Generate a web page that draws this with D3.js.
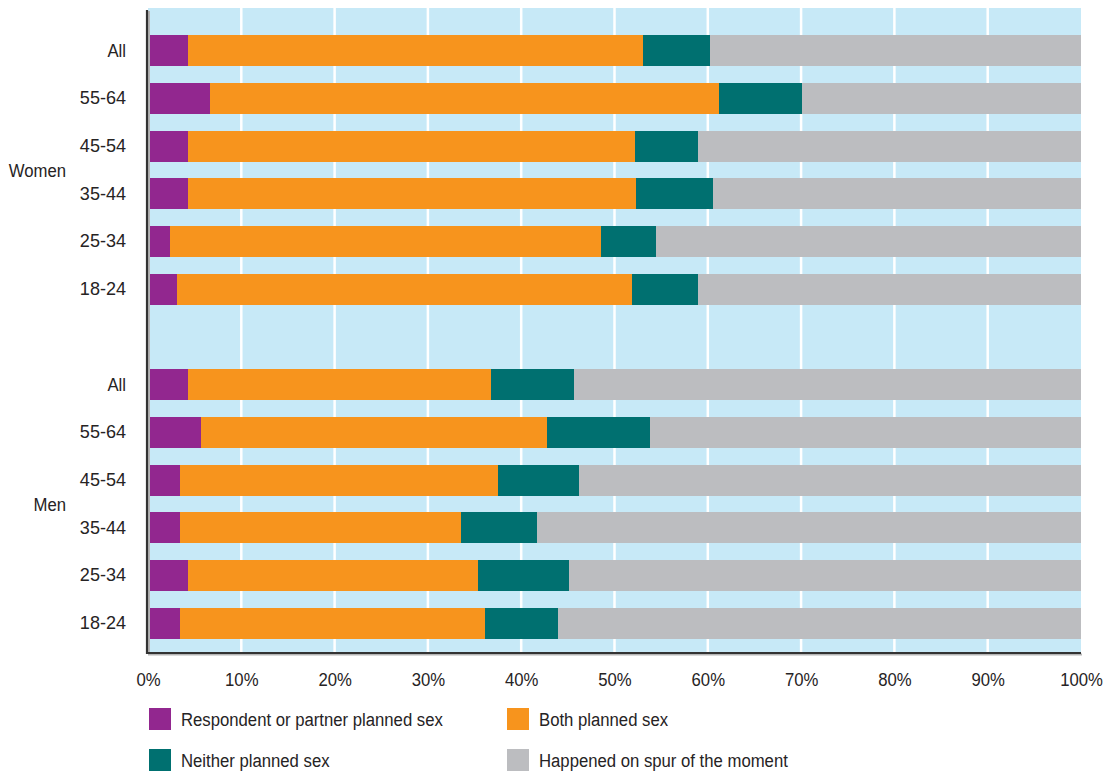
<!DOCTYPE html>
<html>
<head>
<meta charset="utf-8">
<script src="https://cdn.jsdelivr.net/npm/d3@7"></script>
<style>
  html, body { margin: 0; padding: 0; background: #ffffff; }
  svg { display: block; }
  text { font-family: "Liberation Sans", Arial, sans-serif; fill: #262324; }
</style>
</head>
<body>
<svg id="chart" width="1112" height="776"></svg>
<script>
// ---- Data ----
const groups = ["Women", "Men"];
const ageBands = ["All", "55-64", "45-54", "35-44", "25-34", "18-24"];
const seriesNames = [
  "Respondent or partner planned sex",
  "Both planned sex",
  "Neither planned sex",
  "Happened on spur of the moment"
];
// values in %, order: Women (All..18-24), then Men (All..18-24)
const respondentOrPartner = [4.3, 6.6, 4.3, 4.3, 2.4, 3.1,   4.3, 5.7, 3.4, 3.4, 4.3, 3.4];
const bothPlanned         = [48.8, 54.6, 47.9, 48.0, 46.2, 48.8,   32.5, 37.1, 34.1, 30.1, 31.1, 32.7];
const neitherPlanned      = [7.1, 8.9, 6.8, 8.3, 5.8, 7.0,   8.9, 11.0, 8.7, 8.2, 9.7, 7.8];
const spurOfMoment        = [39.8, 29.9, 41.0, 39.4, 45.6, 41.1,   54.3, 46.2, 53.8, 58.3, 54.9, 56.1];
const xTicks = [0, 10, 20, 30, 40, 50, 60, 70, 80, 90, 100];

const colors = ["#92278f", "#f7941d", "#007070", "#bcbdc0"];

// ---- Build table ----
const seriesValues = [respondentOrPartner, bothPlanned, neitherPlanned, spurOfMoment];
const rows = [];
groups.forEach((g, gi) => {
  ageBands.forEach((a, ai) => {
    const idx = gi * ageBands.length + ai;
    const r = { key: g + "|" + a, group: g, age: a };
    seriesNames.forEach((s, si) => { r[s] = seriesValues[si][idx]; });
    rows.push(r);
  });
});
const domainKeys = [];
rows.forEach((r, i) => {
  domainKeys.push(r.key);
  if (i === ageBands.length - 1) domainKeys.push("spacer");
});

// ---- Layout ----
const FONT_SIZE = "19px";
const SQUEEZE = 0.88;     // emulate the condensed typeface of the original
const SQUEEZE_NUM = 0.95; // digits are relatively wide in the original face
const svg = d3.select("#chart");
const plotLeft = 148, plotRight = 1081, plotTop = 8, plotBottom = 653;

const x = d3.scaleLinear().domain([0, 100]).range([plotLeft, plotRight]);
const y = d3.scaleBand().domain(domainKeys).range([27, 647]).paddingInner(0.35).paddingOuter(0.175);

// background
svg.append("rect")
  .attr("x", plotLeft).attr("y", plotTop)
  .attr("width", plotRight - plotLeft).attr("height", plotBottom - plotTop)
  .attr("fill", "#c7e9f7");

// gridlines
svg.append("g").selectAll("line")
  .data(xTicks.filter(d => d > 0 && d < 100))
  .join("line")
  .attr("x1", d => x(d)).attr("x2", d => x(d))
  .attr("y1", plotTop).attr("y2", plotBottom)
  .attr("stroke", "#ffffff").attr("stroke-width", 2.5);

// stacked bars
const stack = d3.stack().keys(seriesNames);
const stacked = stack(rows);
svg.append("g").selectAll("g")
  .data(stacked)
  .join("g")
  .attr("fill", (d, i) => colors[i])
  .selectAll("rect")
  .data(d => d.map(v => ({ v, key: v.data.key })))
  .join("rect")
  .attr("x", d => x(d.v[0]))
  .attr("width", d => x(d.v[1]) - x(d.v[0]))
  .attr("y", d => y(d.key))
  .attr("height", y.bandwidth())
  .attr("shape-rendering", "crispEdges");

// axis lines (with a subtle shadow)
svg.append("line").attr("x1", plotLeft + 1).attr("x2", plotLeft + 1).attr("y1", 11).attr("y2", plotBottom + 2)
  .attr("stroke", "#b5b5b5").attr("stroke-width", 2);
svg.append("line").attr("x1", plotLeft).attr("x2", plotRight + 1).attr("y1", plotBottom + 1.5).attr("y2", plotBottom + 1.5)
  .attr("stroke", "#b5b5b5").attr("stroke-width", 2);
svg.append("line").attr("x1", plotLeft - 1).attr("x2", plotLeft - 1).attr("y1", 10).attr("y2", plotBottom + 1)
  .attr("stroke", "#333333").attr("stroke-width", 2.2);
svg.append("line").attr("x1", plotLeft - 2).attr("x2", plotRight).attr("y1", plotBottom).attr("y2", plotBottom)
  .attr("stroke", "#333333").attr("stroke-width", 2.2);

// x axis labels
const xAxis = d3.axisBottom(x)
  .tickValues(xTicks)
  .tickFormat(d => d + "%")
  .tickSize(0)
  .tickPadding(20);
const gx = svg.append("g").attr("transform", `translate(0,${plotBottom})`).call(xAxis);
gx.select(".domain").remove();
gx.selectAll("text")
  .style("font-family", '"Liberation Sans", Arial, sans-serif')
  .style("font-size", FONT_SIZE).attr("fill", "#262324")
  .attr("transform", `scale(${SQUEEZE},1)`);

// y category labels
svg.append("g").selectAll("text")
  .data(rows)
  .join("text")
  .attr("transform", d => `translate(126,${y(d.key) + y.bandwidth() / 2 - 1}) scale(${d.age === "All" ? SQUEEZE : SQUEEZE_NUM},1)`)
  .attr("dy", "0.36em")
  .attr("text-anchor", "end")
  .style("font-size", FONT_SIZE)
  .text(d => d.age);

// group labels
svg.append("g").selectAll("text")
  .data(groups)
  .join("text")
  .attr("transform", g => {
    const a = y(g + "|" + ageBands[2]) + y.bandwidth() / 2;
    const b = y(g + "|" + ageBands[3]) + y.bandwidth() / 2;
    return `translate(66,${(a + b) / 2}) scale(${SQUEEZE},1)`;
  })
  .attr("dy", "0.36em")
  .attr("text-anchor", "end")
  .style("font-size", FONT_SIZE)
  .text(d => d);

// legend
const legendPos = [
  { x: 149, y: 708 }, { x: 507, y: 708 },
  { x: 149, y: 749 }, { x: 507, y: 749 }
];
const lg = svg.append("g").selectAll("g")
  .data(seriesNames)
  .join("g")
  .attr("transform", (d, i) => `translate(${legendPos[i].x},${legendPos[i].y})`);
lg.append("rect").attr("width", 22).attr("height", 22).attr("fill", (d, i) => colors[i]);
lg.append("text")
  .attr("transform", `translate(32,11) scale(${SQUEEZE},1)`)
  .attr("dy", "0.36em")
  .style("font-size", FONT_SIZE).text(d => d);
</script>
</body>
</html>
